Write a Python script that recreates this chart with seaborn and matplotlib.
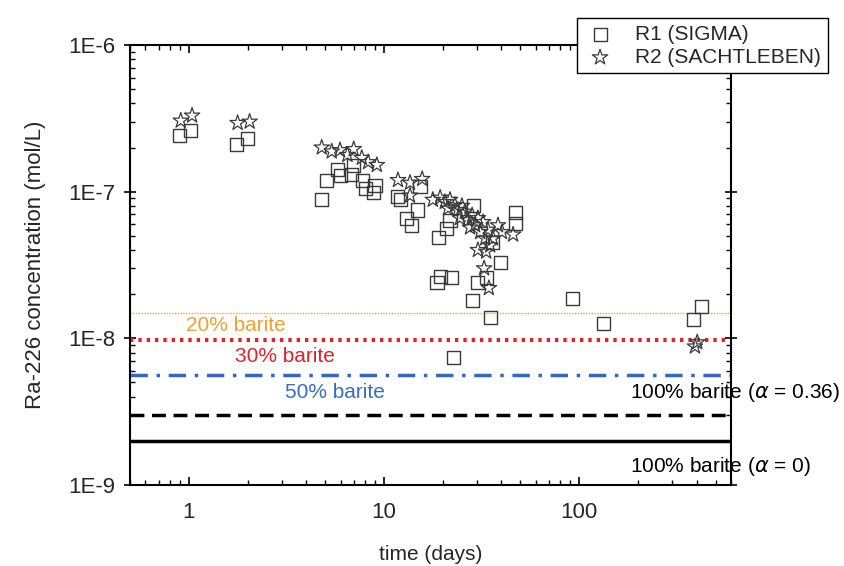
import numpy as np
import pandas as pd
import matplotlib
matplotlib.use("Agg")
import matplotlib.pyplot as plt
import seaborn as sns
from matplotlib.ticker import FixedLocator, LogLocator, FuncFormatter, NullFormatter

# ---- data ----
r1_days = [0.90, 1.02, 1.76, 2.0,
           4.8, 5.1, 5.8, 6.0, 6.8, 7.0, 7.8, 8.0, 9.0, 8.8,
           11.8, 12.1, 13.1, 13.8, 14.8, 15.3,
           28.7, 21.8, 20.8, 19.0, 47.0, 47.0, 36.0, 39.4, 19.4, 22.3, 18.7, 30.3, 33.7,
           28.3, 35.0, 22.6,
           92, 133, 384, 425]
r1_conc = [2.4e-7, 2.6e-7, 2.1e-7, 2.3e-7,
           8.8e-8, 1.2e-7, 1.41e-7, 1.28e-7, 1.3e-7, 1.5e-7, 1.2e-7, 1.05e-7, 1.11e-7, 9.8e-8,
           9.2e-8, 8.9e-8, 6.6e-8, 5.9e-8, 7.5e-8, 1.08e-7,
           8.1e-8, 6.4e-8, 5.6e-8, 4.9e-8, 7.2e-8, 6.1e-8, 4.5e-8, 3.27e-8, 2.62e-8, 2.6e-8, 2.4e-8, 2.4e-8, 2.6e-8,
           1.8e-8, 1.38e-8, 7.4e-9,
           1.88e-8, 1.27e-8, 1.35e-8, 1.66e-8]

r2_days = [0.91, 1.04, 1.78, 2.05,
           4.8, 5.4, 5.95, 7.0, 6.5, 7.7, 8.3, 9.2,
           11.8, 13.6, 15.7, 13.6,
           17.8, 19.4, 20.5, 21.8, 23.1, 21.3, 23.9, 25.1, 26.0, 24.5, 27.0, 28.3, 27.6,
           29.3, 30.3, 31.1, 32.2, 33.0, 34.1, 35.0, 30.3, 33.4, 36.2, 38.4, 40.3, 45.9,
           32.6, 34.5,
           392, 403]
r2_conc = [3.05e-7, 3.3e-7, 2.94e-7, 3.0e-7,
           2.0e-7, 1.88e-7, 1.92e-7, 1.95e-7, 1.78e-7, 1.70e-7, 1.59e-7, 1.52e-7,
           1.2e-7, 1.15e-7, 1.22e-7, 9.4e-8,
           8.8e-8, 9.1e-8, 8.5e-8, 8.8e-8, 8.1e-8, 7.7e-8, 7.5e-8, 8.0e-8, 7.3e-8, 6.6e-8, 6.4e-8, 6.9e-8, 5.7e-8,
           5.9e-8, 6.6e-8, 5.3e-8, 6.2e-8, 4.8e-8, 5.5e-8, 4.3e-8, 4.0e-8, 3.9e-8, 4.8e-8, 5.9e-8, 5.3e-8, 5.1e-8,
           3.0e-8, 2.2e-8,
           8.8e-9, 9.4e-9]

series_names = ["R1 (SIGMA)", "R2 (SACHTLEBEN)"]

line_labels = ["20% barite", "30% barite", "50% barite",
               "100% barite ($\\alpha$ = 0.36)", "100% barite ($\\alpha$ = 0)"]
line_values = [1.5e-8, 9.7e-9, 5.6e-9, 3.0e-9, 2.0e-9]

y_ticks = [1e-9, 1e-8, 1e-7, 1e-6]
x_ticks = [1, 10, 100]

# ---- style ----
sns.set_style("ticks")
plt.rcParams["font.family"] = ["Liberation Sans", "DejaVu Sans"]
plt.rcParams["mathtext.fontset"] = "dejavusans"

fig = plt.figure(figsize=(8.45, 5.66), dpi=100)
ax = fig.add_axes([130/845, 1-485/566, 601/845, 440/566])

df1 = pd.DataFrame({"days": r1_days, "conc": r1_conc})
df2 = pd.DataFrame({"days": r2_days, "conc": r2_conc})

edge = "#3a3a3a"
sns.scatterplot(data=df1, x="days", y="conc", ax=ax, marker="s", s=88,
                facecolor="none", edgecolor=edge, linewidth=1.0,
                label=series_names[0], zorder=3, legend=False)
sns.scatterplot(data=df2, x="days", y="conc", ax=ax, marker="*", s=135,
                facecolor="none", edgecolor=edge, linewidth=0.9,
                label=series_names[1], zorder=4, legend=False)

ax.set_xscale("log")
ax.set_yscale("log")
ax.set_xlim(0.5, 600)
ax.set_ylim(1e-9, 1e-6)

# horizontal reference lines
line_styles = [
    dict(color="#f5a433", lw=1.0, ls=(0, (1, 1))),
    dict(color="#e8202a", lw=3.0, ls=(0, (0.8, 1.2))),
    dict(color="#3567c2", lw=2.5, ls=(0, (5, 2.5, 1, 2.5))),
    dict(color="black", lw=2.5, ls=(0, (4, 2.2))),
    dict(color="black", lw=2.5, ls="-"),
]
for val, st in zip(line_values, line_styles):
    ax.axhline(val, zorder=2, **st)

# labels for the lines
fs = 15
ax.text(1.74, 1.23e-8, line_labels[0], color="#f0a030", fontsize=fs, ha="center", va="center")
ax.text(3.1, 7.5e-9, line_labels[1], color="#e0202a", fontsize=fs, ha="center", va="center")
ax.text(5.6, 4.3e-9, line_labels[2], color="#3a6cc0", fontsize=fs, ha="center", va="center")
ax.text(183, 4.3e-9, line_labels[3], color="black", fontsize=fs, ha="left", va="center", clip_on=False)
ax.text(183, 1.33e-9, line_labels[4], color="black", fontsize=fs, ha="left", va="center", clip_on=False)

# ticks
ax.xaxis.set_major_locator(FixedLocator(x_ticks))
ax.xaxis.set_major_formatter(FuncFormatter(lambda v, p: f"{v:g}"))
ax.xaxis.set_minor_locator(LogLocator(base=10, subs=np.arange(2, 10)))
ax.xaxis.set_minor_formatter(NullFormatter())
ax.yaxis.set_major_locator(FixedLocator(y_ticks))
ax.yaxis.set_major_formatter(FuncFormatter(lambda v, p: f"1E{int(round(np.log10(v)))}"))
ax.yaxis.set_minor_locator(LogLocator(base=10, subs=np.arange(2, 10)))
ax.yaxis.set_minor_formatter(NullFormatter())

ax.tick_params(axis="both", which="major", direction="in", length=6, width=1.2,
               top=True, right=True, labelsize=16, color="black")
ax.tick_params(axis="both", which="minor", direction="in", length=3.5, width=1.0,
               top=True, right=True, color="black")
ax.tick_params(axis="y", which="major", direction="inout", length=9)
ax.tick_params(axis="x", which="major", pad=12)
ax.tick_params(axis="y", which="major", pad=6)

for sp in ax.spines.values():
    sp.set_visible(True)
    sp.set_linewidth(1.5)
    sp.set_color("black")

ax.set_xlabel("time (days)", fontsize=15, labelpad=16)
ax.set_ylabel("Ra-226 concentration (mol/L)", fontsize=16, labelpad=16)

handles, labels = ax.get_legend_handles_labels()
leg = fig.legend(handles, labels, loc="upper right", bbox_to_anchor=(838/845, 1-8/566),
                 fontsize=15, frameon=True, fancybox=False, framealpha=1,
                 edgecolor="black", borderpad=0.3, handletextpad=0.9, labelspacing=0.2,
                 handlelength=1.6)
leg.get_frame().set_linewidth(1.0)

fig.savefig("out.png", dpi=100)
